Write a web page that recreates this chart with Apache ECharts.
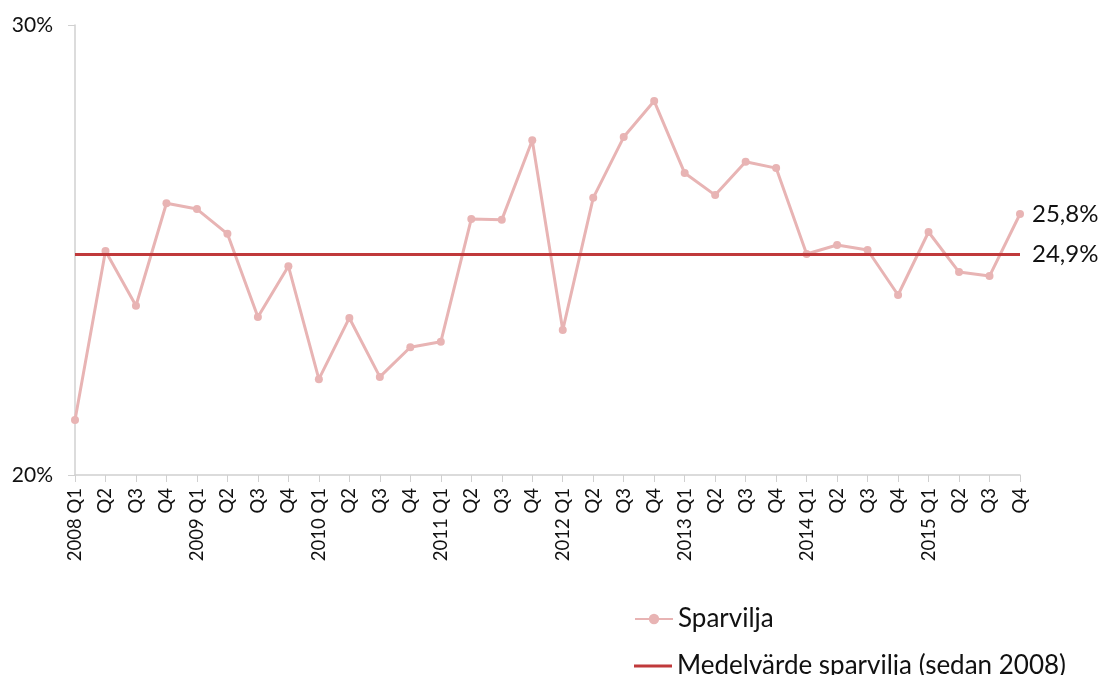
<!DOCTYPE html>
<html><head><meta charset="utf-8">
<script src="https://cdn.jsdelivr.net/npm/echarts@6/dist/echarts.min.js"></script>
<style>html,body{margin:0;padding:0;background:#fff}#c{width:1106px;height:675px}</style>
</head><body><div id="c"></div>
<script>
const categories = ["2008 Q1","Q2","Q3","Q4","2009 Q1","Q2","Q3","Q4","2010 Q1","Q2","Q3","Q4","2011 Q1","Q2","Q3","Q4","2012 Q1","Q2","Q3","Q4","2013 Q1","Q2","Q3","Q4","2014 Q1","Q2","Q3","Q4","2015 Q1","Q2","Q3","Q4"];
const sparvilja = [21.22,24.98,23.76,26.04,25.91,25.36,23.51,24.64,22.13,23.49,22.18,22.84,22.96,25.69,25.67,27.44,23.22,26.16,27.51,28.31,26.71,26.22,26.96,26.82,24.91,25.11,25.0,24.0,25.4,24.51,24.42,25.8];
const meanValue = 24.9;
const meanLine = categories.map(() => meanValue);
const yMin = 20, yMax = 30, yInterval = 10;
const seriesNames = ['Sparvilja', 'Medelvärde sparvilja (sedan 2008)'];

const fmt = v => v.toFixed(1).replace('.', ',') + '%';
const chart = echarts.init(document.getElementById('c'));
const legendText = { fontSize: 26, color: '#111', fontFamily: 'Lato' };
chart.setOption({
  animation: false,
  textStyle: { fontFamily: 'Lato' },
  grid: { left: 75, right: 86, top: 25, bottom: 200, containLabel: false },
  legend: [
    { left: 629, top: 601, itemWidth: 38, itemHeight: 13, textStyle: legendText, data: [seriesNames[0]] },
    { left: 629, top: 648, itemWidth: 38, itemHeight: 3, icon: 'rect', textStyle: legendText, data: [seriesNames[1]] }
  ],
  xAxis: {
    type: 'category', data: categories, boundaryGap: false,
    axisLine: { lineStyle: { color: '#d0d0d0', width: 1.5 } },
    axisTick: { show: true, alignWithLabel: true, length: 7, lineStyle: { color: '#d0d0d0' } },
    axisLabel: { rotate: 90, interval: 0, fontSize: 18.5, color: '#111', margin: 13, fontFamily: 'Lato' }
  },
  yAxis: {
    type: 'value', min: yMin, max: yMax, interval: yInterval,
    axisLine: { show: true, lineStyle: { color: '#d0d0d0', width: 1.5 } },
    axisTick: { show: true, length: 7, lineStyle: { color: '#d0d0d0' } },
    splitLine: { show: false },
    axisLabel: { formatter: '{value}%', fontSize: 21, color: '#111', margin: 22, fontFamily: 'Lato' }
  },
  series: [
    {
      name: seriesNames[0], type: 'line', data: sparvilja,
      symbol: 'circle', symbolSize: 8,
      lineStyle: { color: '#e8b4b4', width: 3 },
      itemStyle: { color: '#e8b4b4' },
      endLabel: { show: true, formatter: p => fmt(p.value), fontSize: 24, color: '#111', distance: 12, fontFamily: 'Lato' },
      z: 2
    },
    {
      name: seriesNames[1], type: 'line', data: meanLine,
      showSymbol: false, symbol: 'none',
      lineStyle: { color: '#c0393b', width: 3 },
      itemStyle: { color: '#c0393b' },
      endLabel: { show: true, formatter: p => fmt(p.value), fontSize: 24, color: '#111', distance: 12, fontFamily: 'Lato' },
      z: 3
    }
  ]
});
</script></body></html>
